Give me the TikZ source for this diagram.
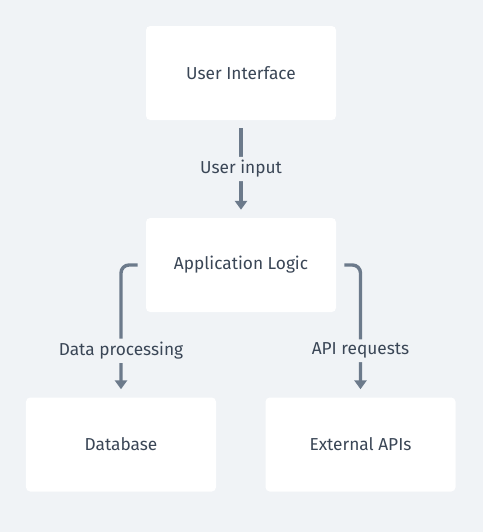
\documentclass[tikz,border=0pt]{standalone}
\usepackage{fontspec}
\setmainfont{Fira Sans}
\usetikzlibrary{arrows.meta}
\definecolor{bgcol}{HTML}{F0F3F6}
\definecolor{linecol}{HTML}{6C7A8B}
\definecolor{textcol}{HTML}{3A4656}
\tikzset{
  box/.style={fill=white, rounded corners=3pt, minimum width=4.75cm, minimum height=2.35cm, text=textcol, font=\fontsize{12.3}{14}\selectfont},
  conn/.style={draw=linecol, line width=2.4pt, rounded corners=0.2cm, -{Triangle[width=0.3cm,length=0.22cm]}},
  lbl/.style={fill=bgcol, text=textcol, inner sep=2.5pt, font=\fontsize{12.3}{14}\selectfont}
}
\begin{document}
\begin{tikzpicture}
\fill[bgcol] (0,0) rectangle (12.075,-13.3);
\useasboundingbox (0,0) rectangle (12.075,-13.3);
% boxes
\node[box] (ui) at (6.025,-1.825) {User Interface};
\node[box] (app) at (6.025,-6.625) {Application Logic};
\node[box] (db) at (3.025,-11.1125) {Database};
\node[box] (ext) at (9.0125,-11.1125) {External APIs};
% connectors
\draw[conn] ([yshift=-0.2cm]ui.south) -- node[lbl] {User input} ([yshift=0.2cm]app.north);
\draw[conn] ([xshift=-0.2cm]app.west) -| node[lbl, pos=0.845] {Data processing} ([yshift=0.2cm]db.north);
\draw[conn] ([xshift=0.2cm]app.east) -| node[lbl, pos=0.845] {API requests} ([yshift=0.2cm]ext.north);
\end{tikzpicture}
\end{document}
